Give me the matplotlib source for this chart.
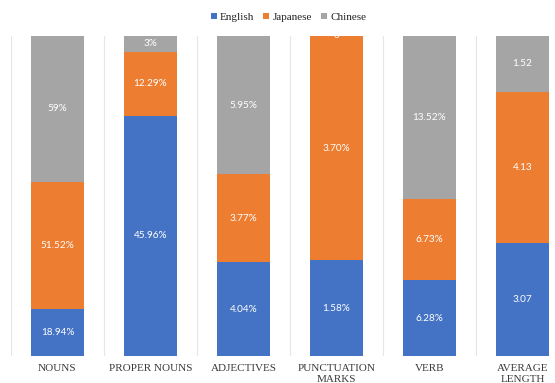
import numpy as np
import matplotlib
matplotlib.use("Agg")
import matplotlib.pyplot as plt

categories = ["NOUNS", "PROPER NOUNS", "ADJECTIVES", "PUNCTUATION\nMARKS", "VERB", "AVERAGE\nLENGTH"]
english = [18.94, 45.96, 4.04, 1.58, 6.28, 3.07]
japanese = [51.52, 12.29, 3.77, 3.70, 6.73, 4.13]
chinese = [59, 3, 5.95, 0, 13.52, 1.52]
percent = [True, True, True, True, True, False]

series = [("English", english, "#4472C4"),
          ("Japanese", japanese, "#ED7D31"),
          ("Chinese", chinese, "#A5A5A5")]


def fmt(v, pct):
    if v == 0:
        return "0"
    s = "%.0f" % v if float(v).is_integer() else "%.2f" % v
    return s + "%" if pct else s


fig = plt.figure(figsize=(5.55, 3.83), dpi=100)
ax = fig.add_axes([11 / 555, 27 / 383, 558 / 555, 320 / 383])

x = np.arange(len(categories))
totals = np.array(english) + np.array(japanese) + np.array(chinese)
bottom = np.zeros(len(categories))
for name, vals, color in series:
    share = np.array(vals) / totals
    ax.bar(x, share, 0.56, bottom=bottom, color=color, label=name, zorder=2)
    for i, v in enumerate(vals):
        ax.text(x[i], bottom[i] + share[i] / 2, fmt(v, percent[i]), ha="center", va="center",
                color="white", fontsize=7.2, family="Lato", zorder=3)
    bottom += share

# light separators between categories
for b in np.arange(len(categories) + 1) - 0.5:
    ax.axvline(b, color="#E6E6E6", lw=0.8, zorder=1)

ax.set_xlim(-0.5, len(categories) - 0.5)
ax.set_ylim(0, 1)
ax.set_xticks(x)
ax.set_xticklabels(categories, family="Liberation Serif", fontsize=8, color="#3A3A3A",
                   linespacing=1.2)
ax.tick_params(axis="x", length=0, pad=6)
ax.set_yticks([])
for s in ax.spines.values():
    s.set_visible(False)

fig.legend(loc="center", bbox_to_anchor=(0.52, 0.955), ncol=3, frameon=False,
           prop={"family": "Liberation Serif", "size": 8}, handlelength=0.55,
           handleheight=0.55, handletextpad=0.3, columnspacing=0.8, labelcolor="#222222")

fig.savefig("out.png", dpi=100)
